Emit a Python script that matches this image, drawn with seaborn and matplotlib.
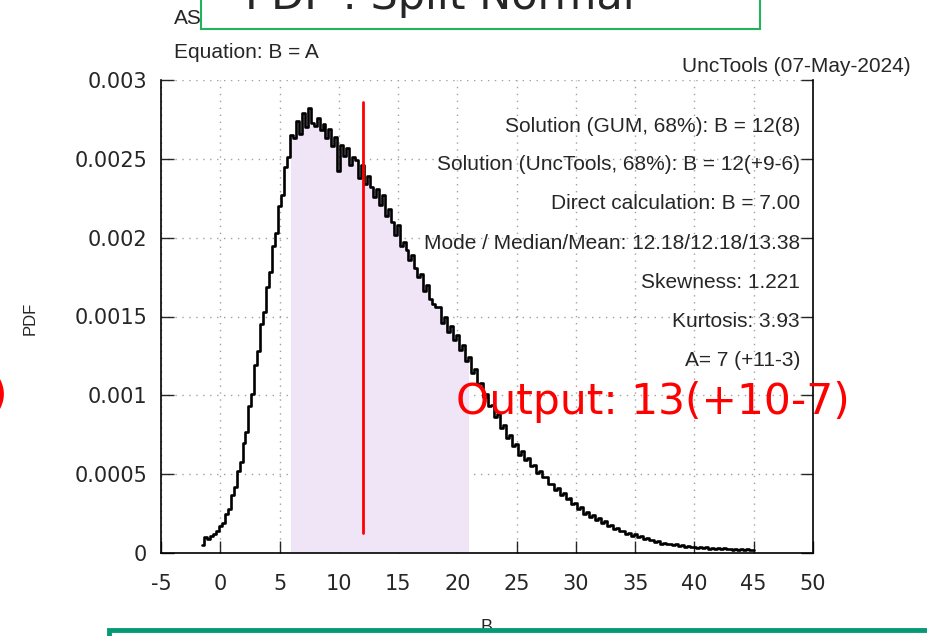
import numpy as np
import matplotlib
matplotlib.use('Agg')
import matplotlib.pyplot as plt
from matplotlib.patches import Rectangle
import seaborn as sns

# Monte Carlo histogram of B: bin width 0.25, first bin centred at -1.5
# values are the PDF in units of 1e-4
bin_first = -1.5
bin_width = 0.25
pdf_e4 = [
    0.5, 1.0, 0.9, 1.1, 1.2, 1.4, 1.7, 1.9,
    2.5, 2.8, 3.7, 4.2, 5.2, 5.8, 7.0, 7.7,
    9.3, 10.1, 11.9, 12.8, 14.5, 15.3, 16.9, 17.8,
    19.5, 20.3, 22.0, 22.7, 24.5, 25.1, 26.5, 26.3,
    27.4, 26.6, 27.9, 27.0, 28.2, 27.3, 27.1, 27.6,
    26.8, 27.2, 26.3, 26.9, 25.8, 26.4, 24.2, 25.9,
    25.2, 25.7, 24.6, 25.1, 24.9, 23.8, 24.6, 23.4,
    23.9, 23.2, 22.6, 23.1, 22.1, 22.7, 21.4, 21.8,
    21.0, 20.2, 20.8, 19.5, 19.7, 19.2, 18.6, 18.9,
    18.1, 17.5, 17.7, 16.6, 17.0, 16.1, 15.8, 15.6,
    15.6, 14.6, 15.0, 14.0, 14.4, 13.5, 13.8, 12.9,
    13.2, 12.2, 12.4, 11.4, 11.7, 10.7, 10.8, 9.9,
    10.1, 9.3, 9.4, 8.6, 8.8, 7.9, 8.1, 7.3,
    7.5, 6.8, 6.9, 6.2, 6.5, 5.9, 6.0, 5.5,
    5.6, 5.1, 5.2, 4.8, 4.8, 4.4, 4.4, 4.0,
    4.1, 3.7, 3.8, 3.4, 3.5, 3.1, 3.2, 2.8,
    2.9, 2.5, 2.6, 2.3, 2.4, 2.1, 2.2, 1.9,
    2.0, 1.7, 1.8, 1.5, 1.6, 1.4, 1.4, 1.2,
    1.3, 1.1, 1.2, 1.0, 1.05, 0.9, 0.95, 0.8,
    0.85, 0.7, 0.75, 0.6, 0.65, 0.55, 0.6, 0.5,
    0.55, 0.45, 0.5, 0.4, 0.45, 0.35, 0.4, 0.3,
    0.35, 0.3, 0.35, 0.28, 0.32, 0.27, 0.3, 0.25,
    0.3, 0.24, 0.28, 0.22, 0.27, 0.22, 0.25, 0.2,
    0.24, 0.2, 0.22,
]

# 68% interval (shaded) and the solution value (red line)
interval_lo, interval_hi = 6, 21
solution = 12
solution_line_y = (0.00013, 0.00286)

x_ticks = list(range(-5, 51, 5))
y_ticks = [0, 0.0005, 0.001, 0.0015, 0.002, 0.0025, 0.003]
y_tick_labels = ['0', '0.0005', '0.001', '0.0015', '0.002', '0.0025', '0.003']

stats_lines = [
    'Solution (GUM, 68%): B = 12(8)',
    'Solution (UncTools, 68%): B = 12(+9-6)',
    'Direct calculation: B = 7.00',
    'Mode / Median/Mean: 12.18/12.18/13.38',
    'Skewness: 1.221',
    'Kurtosis: 3.93',
    'A= 7 (+11-3)',
]
output_text = 'Output: 13(+10-7)'
input_text = '7(+11-3)'
title_text = 'PDF : Split Normal'

sns.set_style('white')
plt.rcParams['font.family'] = ['Liberation Sans', 'DejaVu Sans']

pdf = np.array(pdf_e4) * 1e-4
centers = bin_first + bin_width * np.arange(len(pdf))

fig = plt.figure(figsize=(9.27, 6.36), dpi=100)
ax = fig.add_axes([161 / 927, 1 - 553 / 636, (813 - 161) / 927, (553 - 80) / 636])

# shaded 68% interval under the histogram
mask = (centers >= interval_lo) & (centers <= interval_hi)
ax.fill_between(centers, pdf, where=mask, step='mid', color='#f0e4f7', lw=0, zorder=1)

sns.lineplot(x=centers, y=pdf, drawstyle='steps-mid', color='black', lw=1.9, ax=ax, zorder=3)

ax.plot([solution, solution], solution_line_y, color='red', lw=2, zorder=4)

ax.set_xlim(-5, 50)
ax.set_ylim(0, 0.003)
ax.set_xticks(x_ticks)
ax.set_xticklabels([str(t) for t in x_ticks])
ax.set_yticks(y_ticks)
ax.set_yticklabels(y_tick_labels)
ax.grid(True, color='#a0a0a0', linestyle=(0, (1, 4)), lw=1)
ax.tick_params(direction='in', length=9, width=1, labelsize=15, right=True, bottom=True, left=True)
ax.tick_params(axis='x', pad=15)
ax.tick_params(axis='y', pad=10)
for lab in ax.get_xticklabels() + ax.get_yticklabels():
    lab.set_family('DejaVu Sans')
for side in ['left', 'right', 'bottom']:
    ax.spines[side].set_color('black')
    ax.spines[side].set_linewidth(1.2)
ax.spines['top'].set_visible(False)
ax.set_xlabel('')
ax.set_ylabel('')

# statistics block
stat_y = [0.002708, 0.002467, 0.002219, 0.001965, 0.001718, 0.001471, 0.001224]
for txt, yy in zip(stats_lines, stat_y):
    ax.text(48.9, yy, txt, ha='right', va='center', fontsize=15, zorder=5)

ax.text(19.9, 0.00096, output_text, ha='left', va='center', fontsize=30.5,
        color='red', family='DejaVu Sans', zorder=6)

# figure texts
fig.text(174 / 927, 1 - 18 / 636, 'AS', ha='left', va='center', fontsize=15)
fig.text(174 / 927, 1 - 52 / 636, 'Equation: B = A', ha='left', va='center', fontsize=15)
fig.text(911 / 927, 1 - 66 / 636, 'UncTools (07-May-2024)', ha='right', va='center', fontsize=15)
fig.text(30 / 927, 1 - 318 / 636, 'PDF', rotation=90, ha='center', va='center', fontsize=12)
fig.text(487 / 927, 1 - 627 / 636, 'B', ha='center', va='center', fontsize=13)
fig.text(8 / 927, 1 - 396 / 636, input_text, ha='right', va='center', fontsize=30.5,
         color='red', family='DejaVu Sans')

# overlapping boxes from the surrounding layout
fig.add_artist(Rectangle((201 / 927, 1 - 29 / 636), (760 - 201) / 927, 0.1,
                         transform=fig.transFigure, facecolor='white',
                         edgecolor='#22b45a', lw=1.5, zorder=10))
fig.text(440 / 927, 1 - 9 / 636, title_text, ha='center', va='baseline', fontsize=31,
         family='DejaVu Sans', zorder=11)
fig.add_artist(Rectangle((109 / 927, -0.2), 1.0, 0.2 + 1 - 630 / 636,
                         transform=fig.transFigure, fill=False,
                         edgecolor='#069a74', lw=3.5, zorder=10))

fig.savefig('out.png', dpi=100)
plt.close(fig)
